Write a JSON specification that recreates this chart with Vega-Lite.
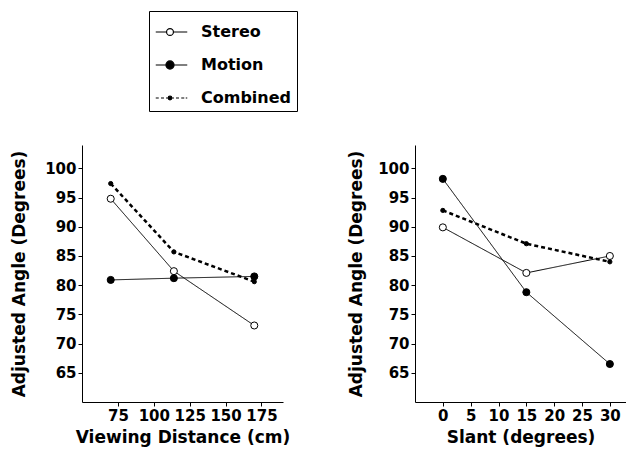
{
  "$schema": "https://vega.github.io/schema/vega-lite/v6.json",
  "background": "white",
  "padding": {"left": 10, "top": 10, "right": 0, "bottom": 8},
  "spacing": 49,
  "resolve": {
    "scale": {"fill": "independent", "shape": "independent"},
    "legend": {"fill": "independent", "shape": "independent"}
  },
  "config": {
    "view": {"stroke": null},
    "font": "DejaVu Sans",
    "axis": {
      "grid": false,
      "domainColor": "black",
      "domainWidth": 1,
      "tickColor": "black",
      "tickSize": 4,
      "tickCount": 20,
      "labelColor": "black",
      "titleColor": "black",
      "labelFont": "DejaVu Sans",
      "titleFont": "DejaVu Sans",
      "labelFontWeight": "bold",
      "titleFontWeight": "bold",
      "labelFontSize": 15,
      "titleFontSize": 17,
      "labelPadding": 2,
      "labelOverlap": false
    }
  },
  "datasets": {
    "distance": [
      {"series": "Stereo", "x": 70, "angle": 94.8},
      {"series": "Stereo", "x": 114, "angle": 82.4},
      {"series": "Stereo", "x": 170, "angle": 73.1},
      {"series": "Motion", "x": 70, "angle": 80.9},
      {"series": "Motion", "x": 114, "angle": 81.2},
      {"series": "Motion", "x": 170, "angle": 81.5},
      {"series": "Combined", "x": 70, "angle": 97.4},
      {"series": "Combined", "x": 114, "angle": 85.7},
      {"series": "Combined", "x": 170, "angle": 80.6}
    ],
    "slant": [
      {"series": "Stereo", "x": 0, "angle": 89.9},
      {"series": "Stereo", "x": 15, "angle": 82.1},
      {"series": "Stereo", "x": 30, "angle": 85.0},
      {"series": "Motion", "x": 0, "angle": 98.2},
      {"series": "Motion", "x": 15, "angle": 78.8},
      {"series": "Motion", "x": 30, "angle": 66.5},
      {"series": "Combined", "x": 0, "angle": 92.8},
      {"series": "Combined", "x": 15, "angle": 87.1},
      {"series": "Combined", "x": 30, "angle": 84.0}
    ]
  },
  "hconcat": [
    {
      "width": 201,
      "height": 257,
      "data": {"name": "distance"},
      "layer": [
        {
          "mark": {"type": "point", "filled": false, "stroke": "black", "strokeWidth": 1.2, "opacity": 1, "size": 6},
          "encoding": {
            "x": {"field": "x", "type": "quantitative", "scale": {"domain": [50, 190], "nice": false, "zero": false}, "axis": {"values": [75, 100, 125, 150, 175], "tickCount": 20, "title": "Viewing Distance (cm)", "titlePadding": 6, "labelOverlap": false}},
            "y": {"field": "angle", "type": "quantitative", "scale": {"domain": [60, 104], "nice": false, "zero": false}, "axis": {"values": [65, 70, 75, 80, 85, 90, 95, 100], "tickCount": 20, "title": "Adjusted Angle (Degrees)", "titlePadding": 16, "labelOverlap": false}},
            "fill": {
              "field": "series", "type": "nominal",
              "scale": {"domain": ["Stereo", "Motion", "Combined"], "range": ["white", "black", "black"]},
              "legend": {"title": null, "orient": "none", "legendX": 67, "legendY": -134, "strokeColor": "black", "padding": 5, "symbolSize": 900, "symbolOpacity": 1, "symbolStrokeWidth": 1.2, "labelFont": "DejaVu Sans", "labelFontSize": 16, "labelFontWeight": "bold", "labelColor": "black", "labelOffset": 15, "rowPadding": 9}
            },
            "shape": {
              "field": "series", "type": "nominal",
              "scale": {
                "domain": ["Stereo", "Motion", "Combined"],
                "range": [
                  "M-0.95,0H-0.23M0.23,0H1.15M-0.23,0A0.23,0.23,0,1,0,0.23,0A0.23,0.23,0,1,0,-0.23,0",
                  "M-0.95,0H-0.27M0.27,0H1.15M-0.27,0A0.27,0.27,0,1,0,0.27,0A0.27,0.27,0,1,0,-0.27,0",
                  "M-0.95,0H-0.75M-0.6,0H-0.4M-0.27,0H-0.15M0.15,0H0.27M0.4,0H0.6M0.75,0H0.95M1.05,0H1.15M-0.12,0A0.12,0.12,0,1,0,0.12,0A0.12,0.12,0,1,0,-0.12,0"
                ]
              },
              "legend": {"title": null, "orient": "none", "legendX": 67, "legendY": -134, "strokeColor": "black", "padding": 5, "symbolSize": 900, "symbolOpacity": 1, "symbolStrokeWidth": 1.2, "labelFont": "DejaVu Sans", "labelFontSize": 16, "labelFontWeight": "bold", "labelColor": "black", "labelOffset": 15, "rowPadding": 9}
            }
          }
        },
        {
          "mark": {"type": "line", "color": "black"},
          "encoding": {
            "x": {"field": "x", "type": "quantitative"},
            "y": {"field": "angle", "type": "quantitative"},
            "detail": {"field": "series", "type": "nominal"},
            "strokeDash": {"condition": {"test": "datum.series === 'Combined'", "value": [4, 3]}, "value": [1, 0]},
            "strokeWidth": {"condition": {"test": "datum.series === 'Combined'", "value": 2.5}, "value": 1}
          }
        },
        {
          "mark": {"type": "point", "filled": true, "stroke": "black", "strokeWidth": 1, "opacity": 1},
          "encoding": {
            "x": {"field": "x", "type": "quantitative"},
            "y": {"field": "angle", "type": "quantitative"},
            "fill": {"condition": {"test": "datum.series === 'Stereo'", "value": "white"}, "value": "black"},
            "size": {"condition": {"test": "datum.series === 'Combined'", "value": 18}, "value": 50}
          }
        }
      ]
    },
    {
      "width": 211,
      "height": 257,
      "data": {"name": "slant"},
      "layer": [
        {
          "mark": {"type": "line", "color": "black"},
          "encoding": {
            "x": {"field": "x", "type": "quantitative", "scale": {"domain": [-5, 32.9], "nice": false, "zero": false}, "axis": {"values": [0, 5, 10, 15, 20, 25, 30], "tickCount": 20, "title": "Slant (degrees)", "titlePadding": 6, "labelOverlap": false}},
            "y": {"field": "angle", "type": "quantitative", "scale": {"domain": [60, 104], "nice": false, "zero": false}, "axis": {"values": [65, 70, 75, 80, 85, 90, 95, 100], "tickCount": 20, "title": "Adjusted Angle (Degrees)", "titlePadding": 12, "labelOverlap": false}},
            "detail": {"field": "series", "type": "nominal"},
            "strokeDash": {"condition": {"test": "datum.series === 'Combined'", "value": [4, 3]}, "value": [1, 0]},
            "strokeWidth": {"condition": {"test": "datum.series === 'Combined'", "value": 2.5}, "value": 1}
          }
        },
        {
          "mark": {"type": "point", "filled": true, "stroke": "black", "strokeWidth": 1, "opacity": 1},
          "encoding": {
            "x": {"field": "x", "type": "quantitative"},
            "y": {"field": "angle", "type": "quantitative"},
            "fill": {"condition": {"test": "datum.series === 'Stereo'", "value": "white"}, "value": "black"},
            "size": {"condition": {"test": "datum.series === 'Combined'", "value": 18}, "value": 50}
          }
        }
      ]
    }
  ]
}
